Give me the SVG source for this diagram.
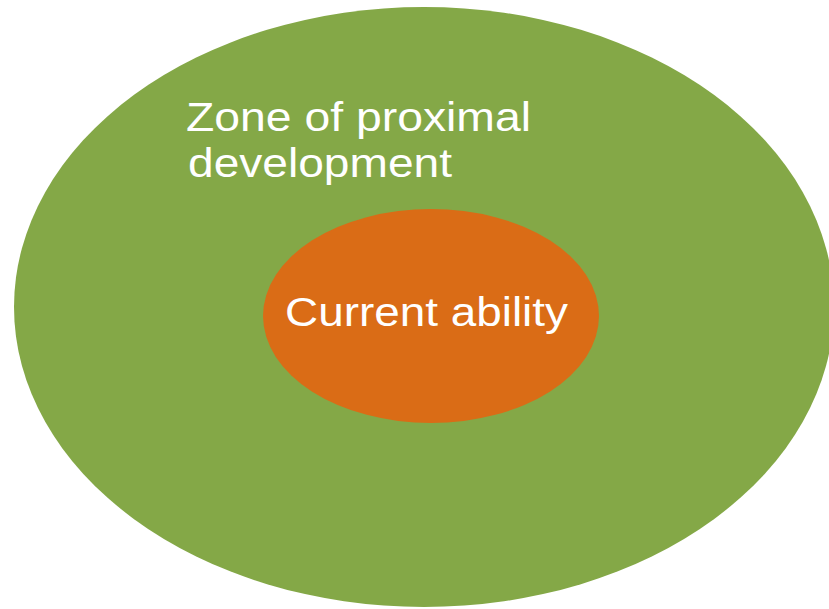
<svg xmlns="http://www.w3.org/2000/svg" width="829" height="609" viewBox="0 0 829 609">
<style>
.lbl{font-family:"Liberation Sans",Arial,sans-serif;font-size:40px;fill:#ffffff}
</style>
<rect width="829" height="609" fill="#ffffff"/>
<g id="zpd">
<ellipse cx="424" cy="307" rx="410" ry="300" fill="#84a847"/>
<text class="lbl" x="186" y="131" textLength="345" lengthAdjust="spacingAndGlyphs">Zone of proximal</text>
<text class="lbl" x="188" y="177" textLength="264" lengthAdjust="spacingAndGlyphs">development</text>
</g>
<g id="current">
<ellipse cx="431" cy="316" rx="168" ry="107" fill="#da6c16"/>
<text class="lbl" x="285" y="326" textLength="283" lengthAdjust="spacingAndGlyphs">Current ability</text>
</g>
<g id="connectors"></g>
</svg>
